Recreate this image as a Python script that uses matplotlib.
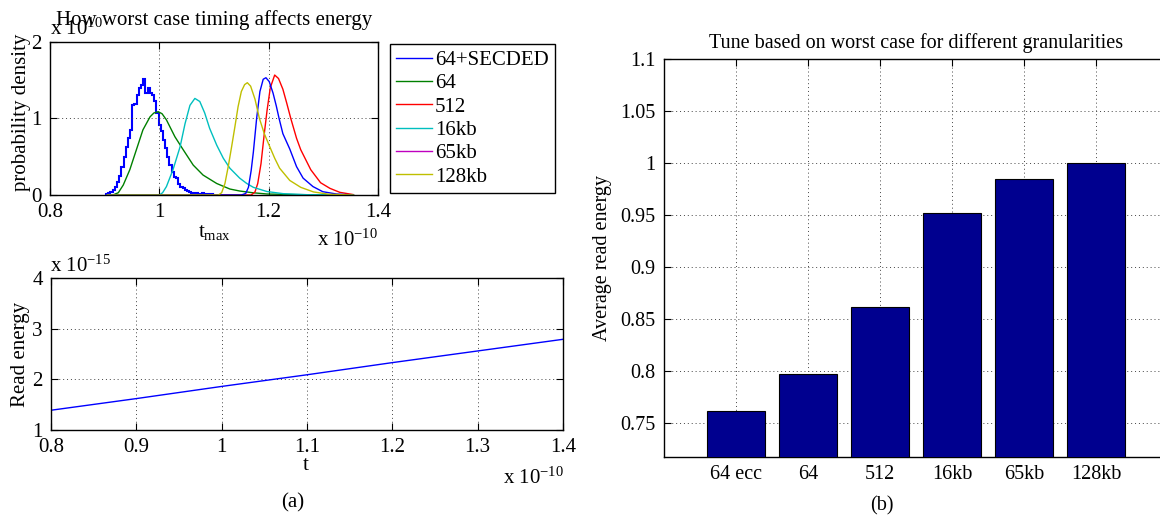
import numpy as np
import matplotlib
matplotlib.use("Agg")
import matplotlib.pyplot as plt
from matplotlib.lines import Line2D

plt.rcParams['font.family'] = ['Liberation Serif', 'DejaVu Serif']
plt.rcParams['mathtext.fontset'] = 'stix'
plt.rcParams['mathtext.default'] = 'regular'

FS = 15      # left panels
FSB = 14.5   # bar chart

# ---------------- data: top-left (t in units of 1e-10 s, density in units of 1e10) ----------------
hist_start = 0.9025
hist_width = 0.004
hist_heights = [0.01, 0.02, 0.04, 0.07, 0.11, 0.17, 0.25, 0.36, 0.50, 0.62, 0.75, 0.85,
                1.17, 1.19, 1.30, 1.39, 1.43, 1.51, 1.33, 1.39, 1.33, 1.30, 1.22, 1.07,
                0.91, 0.83, 0.72, 0.61, 0.50, 0.39, 0.30, 0.24, 0.22, 0.15, 0.11, 0.09,
                0.065, 0.055, 0.04, 0.03, 0.02, 0.03, 0.015, 0.01, 0.02, 0.01, 0.01,
                0.005, 0.01, 0.005]

green_t = [0.905, 0.915, 0.925, 0.934, 0.946, 0.958, 0.970, 0.983, 0.990, 0.998, 1.005,
           1.013, 1.0285, 1.0437, 1.062, 1.080, 1.105, 1.129, 1.147, 1.170, 1.197, 1.25,
           1.30, 1.355]
green_d = [0.0, 0.0, 0.03, 0.13, 0.33, 0.59, 0.85, 1.02, 1.07, 1.087, 1.06,
           0.98, 0.76, 0.59, 0.39, 0.26, 0.15, 0.078, 0.052, 0.03, 0.013, 0.005,
           0.002, 0.0]

red_t = [0.905, 1.168, 1.175, 1.180, 1.186, 1.192, 1.197, 1.203, 1.211, 1.218, 1.226,
         1.233, 1.2404, 1.251, 1.2587, 1.277, 1.295, 1.312, 1.330, 1.355]
red_d = [0.0, 0.0, 0.04, 0.15, 0.41, 0.80, 1.10, 1.40, 1.565, 1.52, 1.38,
         1.20, 1.00, 0.74, 0.59, 0.33, 0.16, 0.087, 0.035, 0.005]

cyan_t = [0.905, 1.000, 1.006, 1.013, 1.025, 1.038, 1.047, 1.056, 1.065, 1.074, 1.083,
          1.092, 1.105, 1.117, 1.129, 1.147, 1.160, 1.172, 1.197, 1.227, 1.27, 1.355]
cyan_d = [0.0, 0.0, 0.03, 0.11, 0.33, 0.63, 0.93, 1.17, 1.26, 1.22, 1.07,
          0.87, 0.65, 0.48, 0.35, 0.22, 0.15, 0.10, 0.045, 0.017, 0.004, 0.0]

blue_t = [0.905, 1.150, 1.158, 1.163, 1.168, 1.172, 1.178, 1.184, 1.190, 1.195, 1.201,
          1.208, 1.214, 1.219, 1.226, 1.2386, 1.251, 1.263, 1.281, 1.299, 1.324, 1.355]
blue_d = [0.0, 0.0, 0.02, 0.10, 0.32, 0.56, 1.00, 1.35, 1.51, 1.53, 1.48,
          1.33, 1.16, 1.00, 0.80, 0.60, 0.37, 0.22, 0.11, 0.043, 0.013, 0.0]

yellow_t = [0.905, 1.108, 1.114, 1.120, 1.126, 1.132, 1.138, 1.144, 1.150, 1.156, 1.161,
            1.167, 1.175, 1.183, 1.192, 1.202, 1.211, 1.220, 1.2386, 1.2587, 1.282,
            1.31, 1.355]
yellow_d = [0.0, 0.0, 0.03, 0.15, 0.37, 0.62, 0.88, 1.15, 1.35, 1.44, 1.465,
            1.42, 1.25, 1.00, 0.80, 0.63, 0.48, 0.35, 0.19, 0.10, 0.04,
            0.01, 0.0]

legend_labels = ['64+SECDED', '64', '512', '16kb', '65kb', '128kb']
legend_colors = ['#0000ff', '#008000', '#ff0000', '#00bfbf', '#bf00bf', '#bfbf00']

# ---------------- data: bottom-left ----------------
energy_t = [0.8, 0.9, 1.0, 1.1, 1.2, 1.3, 1.4]
energy_e = [1.39, 1.62, 1.86, 2.09, 2.33, 2.56, 2.79]

# ---------------- data: bar chart ----------------
bar_labels = ['64 ecc', '64', '512', '16kb', '65kb', '128kb']
bar_values = [0.761, 0.797, 0.861, 0.952, 0.985, 1.000]

# ---------------- figure ----------------
W, H = 1160, 519
fig = plt.figure(figsize=(W / 100, H / 100), dpi=100)


def rect(l, r, t, b):
    return [l / W, 1 - b / H, (r - l) / W, (b - t) / H]


def fx(x):
    return x / W


def fy(y):
    return 1 - y / H


def style(ax, fs):
    ax.tick_params(direction='in', top=True, right=True, length=5, width=0.8,
                   labelsize=fs, pad=6)
    ax.grid(True, linestyle=(0, (1, 3)), color='#444444', linewidth=0.7)
    for s in ax.spines.values():
        s.set_linewidth(1.0)


# top-left
ax1 = fig.add_axes(rect(50, 378, 41.7, 195))
edges = hist_start + hist_width * np.arange(len(hist_heights) + 1)
ax1.stairs(hist_heights, edges, color=legend_colors[0], linewidth=1.5)
ax1.plot(green_t, green_d, color=legend_colors[1], lw=1.0)
ax1.plot(red_t, red_d, color=legend_colors[2], lw=1.0)
ax1.plot(cyan_t, cyan_d, color=legend_colors[3], lw=1.0)
ax1.plot(blue_t, blue_d, color=legend_colors[0], lw=1.0)
ax1.plot(yellow_t, yellow_d, color=legend_colors[5], lw=1.0)
ax1.set_xlim(0.8, 1.4)
ax1.set_ylim(0, 2)
ax1.set_xticks([0.8, 1.0, 1.2, 1.4])
ax1.set_xticklabels(['0.8', '1', '1.2', '1.4'])
ax1.set_yticks([0, 1, 2])
ax1.set_yticklabels(['0', '1', '2'])
style(ax1, FS)
ax1.set_title('How worst case timing affects energy', fontsize=FS, pad=12)
fig.text(fx(22), fy(112), 'probability density', rotation=90, ha='center', va='center',
         fontsize=FS)
fig.text(fx(214), fy(232), r't$_{max}$', ha='center', va='center', fontsize=FS)
fig.text(fx(378), fy(246), r'x 10$^{-10}$', ha='right', va='baseline', fontsize=FS)
fig.text(fx(50), fy(35), r'x 10$^{10}$', ha='left', va='baseline', fontsize=FS)

handles = [Line2D([], [], color=c, lw=1.0) for c in legend_colors]
fig.legend(handles, legend_labels, loc='upper left', bbox_to_anchor=(fx(390), fy(44)),
           borderaxespad=0, fontsize=FS, frameon=True, fancybox=False, edgecolor='black',
           framealpha=1, handlelength=1.7, handletextpad=0.15, labelspacing=0.18,
           borderpad=0.3)

# bottom-left
ax2 = fig.add_axes(rect(51, 563, 278, 430))
ax2.plot(energy_t, energy_e, color='#0000ff', lw=1.0)
ax2.set_xlim(0.8, 1.4)
ax2.set_ylim(1, 4)
ax2.set_xticks([0.8, 0.9, 1.0, 1.1, 1.2, 1.3, 1.4])
ax2.set_xticklabels(['0.8', '0.9', '1', '1.1', '1.2', '1.3', '1.4'])
ax2.set_yticks([1, 2, 3, 4])
ax2.set_yticklabels(['1', '2', '3', '4'])
style(ax2, FS)
fig.text(fx(21), fy(354), 'Read energy', rotation=90, ha='center', va='center', fontsize=FS)
fig.text(fx(306), fy(466), 't', ha='center', va='center', fontsize=FS)
fig.text(fx(564), fy(484), r'x 10$^{-10}$', ha='right', va='baseline', fontsize=FS)
fig.text(fx(50), fy(272), r'x 10$^{-15}$', ha='left', va='baseline', fontsize=FS)
fig.text(fx(293), fy(503), '(a)', ha='center', va='center', fontsize=FS)

# bar chart
ax3 = fig.add_axes(rect(664, 1168, 59, 457))
pos = np.arange(1, len(bar_values) + 1)
ax3.bar(pos, bar_values, width=0.8, color='#00008f', edgecolor='black', linewidth=0.8,
        zorder=3)
ax3.set_xlim(0, 7)
ax3.set_ylim(0.717, 1.1)
ax3.set_xticks(pos)
ax3.set_xticklabels(bar_labels)
ax3.set_yticks([0.75, 0.8, 0.85, 0.9, 0.95, 1.0, 1.05, 1.1])
ax3.set_yticklabels(['0.75', '0.8', '0.85', '0.9', '0.95', '1', '1.05', '1.1'])
style(ax3, FSB)
ax3.set_axisbelow(True)
ax3.set_title('Tune based on worst case for different granularities', fontsize=FSB, pad=8)
ax3.set_ylabel('Average read energy', fontsize=FSB, labelpad=6)
fig.text(fx(882), fy(506), '(b)', ha='center', va='center', fontsize=FSB)

fig.savefig('out.png', dpi=100)
